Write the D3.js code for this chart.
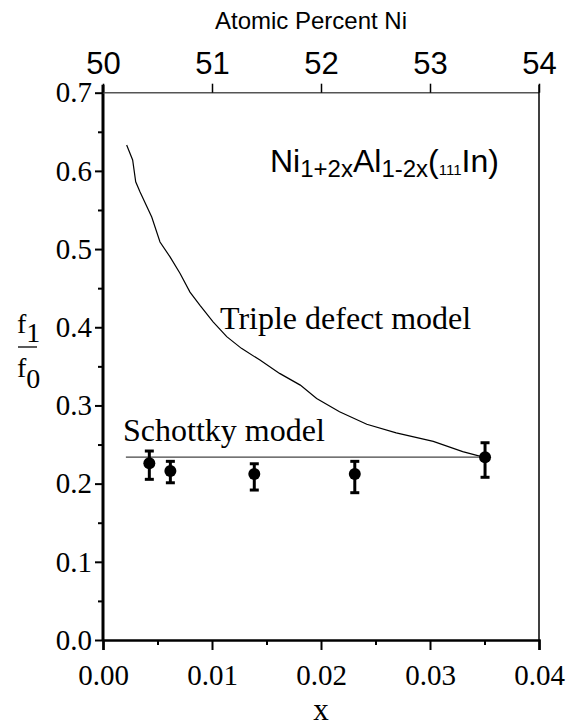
<!DOCTYPE html>
<html>
<head>
<meta charset="utf-8">
<script src="https://cdn.jsdelivr.net/npm/d3@7"></script>
<style>
  html, body { margin: 0; padding: 0; background: #fff; }
  svg { display: block; }
</style>
</head>
<body>
<div id="chart"></div>
<script>
// measured points (x, f1/f0) with error bar limits
const pointX = [0.00425, 0.00618, 0.01388, 0.0231, 0.03505];
const pointY = [0.226, 0.2161, 0.2123, 0.2123, 0.2336];
const pointLo = [0.2055, 0.2011, 0.1918, 0.1884, 0.2081];
const pointHi = [0.2417, 0.2285, 0.2254, 0.2285, 0.2523];

// triple defect model curve
const tripleX = [0.00217, 0.00272, 0.0030, 0.0034, 0.00447, 0.00523, 0.00615, 0.00706, 0.00798, 0.0089,
                 0.0101, 0.01135, 0.0127, 0.0144, 0.0162, 0.0181, 0.0196, 0.0217, 0.0242, 0.0269,
                 0.0303, 0.0330, 0.0349];
const tripleY = [0.633, 0.614, 0.586, 0.573, 0.541, 0.509, 0.490, 0.469, 0.445, 0.428,
                 0.407, 0.388, 0.373, 0.358, 0.341, 0.326, 0.309, 0.292, 0.276, 0.265,
                 0.254, 0.241, 0.234];

// schottky model: constant
const schottkyX = [0.0021, 0.0355];
const schottkyY = 0.234;

const xTicks = [0, 0.01, 0.02, 0.03, 0.04];
const xMinor = [0.005, 0.015, 0.025, 0.035];
const yTicks = [0, 0.1, 0.2, 0.3, 0.4, 0.5, 0.6, 0.7];
const yMinor = [0.05, 0.15, 0.25, 0.35, 0.45, 0.55, 0.65];
const topTicks = [50, 51, 52, 53, 54];

const SERIF = '"Liberation Serif", "Times New Roman", serif';
const SANS = '"Liberation Sans", Arial, sans-serif';

const width = 569, height = 726;
const mLeft = 103, mRight = 539, mTop = 92.7, mBottom = 640;

const svg = d3.select("#chart").append("svg")
    .attr("width", width)
    .attr("height", height);

const x = d3.scaleLinear().domain([0, 0.04]).range([mLeft, mRight]);
const y = d3.scaleLinear().domain([0, 0.7]).range([mBottom, mTop]);
const xTop = d3.scaleLinear().domain([50, 54]).range([mLeft, mRight]);

// bottom axis
const gx = svg.append("g").attr("transform", `translate(0,${mBottom})`)
    .call(d3.axisBottom(x).tickValues(xTicks).tickSize(10).tickPadding(14).tickFormat(d3.format(".2f")));
gx.select(".domain").attr("stroke-width", 2.5);
gx.selectAll(".tick line").attr("stroke-width", 2);
gx.selectAll("text").style("font-family", SERIF).style("font-size", "29px")
    .attr("dy", null).attr("y", 45);
svg.append("g").attr("transform", `translate(0,${mBottom})`)
    .call(d3.axisBottom(x).tickValues(xMinor).tickSize(5).tickFormat(""))
    .call(g => g.select(".domain").remove())
    .selectAll(".tick line").attr("stroke-width", 2);

// left axis
const gy = svg.append("g").attr("transform", `translate(${mLeft},0)`)
    .call(d3.axisLeft(y).tickValues(yTicks).tickSize(8).tickPadding(3).tickFormat(d3.format(".1f")));
gy.select(".domain").attr("stroke-width", 3).attr("d", `M0,${mTop - 8}V${mBottom}`);
gy.selectAll(".tick line").attr("stroke-width", 2);
gy.selectAll("text").style("font-family", SERIF).style("font-size", "29px");
svg.append("g").attr("transform", `translate(${mLeft},0)`)
    .call(d3.axisLeft(y).tickValues(yMinor).tickSize(5).tickFormat(""))
    .call(g => g.select(".domain").remove())
    .selectAll(".tick line").attr("stroke-width", 2);

// top axis (atomic percent)
const gt = svg.append("g").attr("transform", `translate(0,${mTop})`)
    .call(d3.axisTop(xTop).tickValues(topTicks).tickSize(9).tickPadding(10).tickFormat(d3.format("d")));
gt.select(".domain").attr("stroke", "#555").attr("stroke-width", 1.4).attr("d", `M${mLeft},0H${mRight}`);
gt.selectAll(".tick line").attr("stroke-width", 1.5);
gt.selectAll("text").style("font-family", SANS).style("font-size", "31px");

// right border
svg.append("line")
    .attr("x1", mRight).attr("x2", mRight)
    .attr("y1", mTop - 8).attr("y2", mBottom)
    .attr("stroke", "#000").attr("stroke-width", 1.5);

// axis titles
svg.append("text").style("font-family", SANS)
    .attr("x", 311).attr("y", 29).attr("text-anchor", "middle")
    .style("font-size", "24px").text("Atomic Percent Ni");

svg.append("text").style("font-family", SERIF)
    .attr("x", (mLeft + mRight) / 2).attr("y", 719.5).attr("text-anchor", "middle")
    .style("font-size", "31px").text("x");

const yl = svg.append("g").style("font-family", SERIF).style("font-size", "28px");
yl.append("text").attr("x", 17).attr("y", 333)
    .call(t => { t.append("tspan").text("f"); t.append("tspan").attr("dy", 9).text("1"); });
yl.append("line").attr("x1", 18).attr("x2", 37).attr("y1", 347).attr("y2", 347)
    .attr("stroke", "#000").attr("stroke-width", 1.3);
yl.append("text").attr("x", 17).attr("y", 377)
    .call(t => { t.append("tspan").text("f"); t.append("tspan").attr("dy", 11).text("0"); });

// model curves
const line = d3.line().x(d => x(d[0])).y(d => y(d[1]));
svg.append("path")
    .datum(tripleX.map((v, i) => [v, tripleY[i]]))
    .attr("d", line)
    .attr("fill", "none").attr("stroke", "#000").attr("stroke-width", 1.2);

svg.append("path")
    .datum(schottkyX.map(v => [v, schottkyY]))
    .attr("d", line)
    .attr("fill", "none").attr("stroke", "#444").attr("stroke-width", 1.3);

// error bars and points
const pts = pointX.map((v, i) => ({ x: v, y: pointY[i], lo: pointLo[i], hi: pointHi[i] }));
const eb = svg.append("g").attr("stroke", "#000").attr("stroke-width", 3);
eb.selectAll(".bar").data(pts).enter().append("line")
    .attr("x1", d => x(d.x)).attr("x2", d => x(d.x))
    .attr("y1", d => y(d.lo)).attr("y2", d => y(d.hi));
eb.selectAll(".capLo").data(pts).enter().append("line")
    .attr("x1", d => x(d.x) - 4.5).attr("x2", d => x(d.x) + 4.5)
    .attr("y1", d => y(d.lo)).attr("y2", d => y(d.lo));
eb.selectAll(".capHi").data(pts).enter().append("line")
    .attr("x1", d => x(d.x) - 4.5).attr("x2", d => x(d.x) + 4.5)
    .attr("y1", d => y(d.hi)).attr("y2", d => y(d.hi));
svg.selectAll(".pt").data(pts).enter().append("circle")
    .attr("cx", d => x(d.x)).attr("cy", d => y(d.y)).attr("r", 6).attr("fill", "#000");

// labels
svg.append("text").style("font-family", SERIF).attr("x", 220).attr("y", 329)
    .style("font-size", "32px").text("Triple defect model");
svg.append("text").style("font-family", SERIF).attr("x", 123).attr("y", 441)
    .style("font-size", "32px").text("Schottky model");

const formula = svg.append("text").style("font-family", SANS).attr("x", 270).attr("y", 171.7).style("font-size", "32px");
formula.append("tspan").text("Ni");
formula.append("tspan").style("font-size", "24px").attr("dy", 5).text("1+2x");
formula.append("tspan").attr("dy", -5).text("Al");
formula.append("tspan").style("font-size", "24px").attr("dy", 5).text("1-2x");
formula.append("tspan").attr("dy", -5).text("(");
formula.append("tspan").style("font-size", "15px").attr("dy", 3).text("111");
formula.append("tspan").attr("dy", -3).text("In)");
</script>
</body>
</html>
